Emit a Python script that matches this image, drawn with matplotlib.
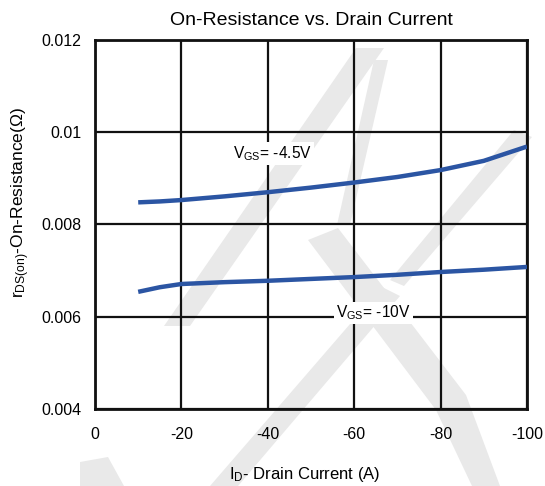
import matplotlib
matplotlib.use("Agg")
import matplotlib.pyplot as plt
from matplotlib.patches import Polygon

plt.rcParams['font.family'] = ['Liberation Sans', 'DejaVu Sans']
plt.rcParams['mathtext.fontset'] = 'custom'
plt.rcParams['mathtext.rm'] = 'Liberation Sans'

# drain current (A) and on-resistance (ohm)
drain_current = [-10, -15, -20, -30, -40, -50, -60, -70, -80, -90, -100]
rds_vgs_4v5 = [0.00848, 0.00850, 0.00853, 0.00861, 0.00870, 0.00880, 0.00891,
               0.00903, 0.00918, 0.00938, 0.00969]
rds_vgs_10v = [0.00654, 0.00664, 0.00671, 0.00675, 0.00678, 0.00682, 0.00686,
               0.00691, 0.00697, 0.00702, 0.00708]

x_ticks = [0, -20, -40, -60, -80, -100]
y_ticks = [0.004, 0.006, 0.008, 0.010, 0.012]
y_tick_labels = ["0.004", "0.006", "0.008", "0.01", "0.012"]

LINE_COLOR = '#2b55a3'
W, H = 545, 486

fig = plt.figure(figsize=(W / 100, H / 100), dpi=100, facecolor='white')
ax = fig.add_axes([95 / W, 1 - 409 / H, (527 - 95) / W, (409 - 40) / H])
ax.set_facecolor('none')
ax.set_zorder(2)

# faint watermark behind the plot (figure pixel coords, y down)
watermark = [
    [(356, 48), (384, 48), (190, 326), (164, 326)],
    [(374, 60), (388, 60), (350, 225), (337, 225)],
    [(308, 240), (338, 228), (466, 395), (500, 486), (472, 486), (436, 410)],
    [(514, 130), (532, 137), (404, 286), (390, 280)],
    [(382, 287), (400, 296), (238, 486), (210, 486)],
    [(80, 462), (108, 457), (124, 486), (80, 486)],
]
for poly in watermark:
    pts = [(px / W, 1 - py / H) for px, py in poly]
    fig.patches.append(Polygon(pts, closed=True, transform=fig.transFigure,
                               facecolor='#e9e9e9', edgecolor='none', zorder=-1))

ax.plot(drain_current, rds_vgs_4v5, color=LINE_COLOR, lw=3.2, zorder=3,
        solid_capstyle='butt')
ax.plot(drain_current, rds_vgs_10v, color=LINE_COLOR, lw=3.2, zorder=3,
        solid_capstyle='butt')

ax.set_xlim(0, -100)
ax.set_ylim(0.004, 0.012)
ax.set_xticks(x_ticks)
ax.set_xticklabels([str(t) for t in x_ticks], fontsize=11.5)
ax.set_yticks(y_ticks)
ax.set_yticklabels(y_tick_labels, fontsize=11.5)
ax.tick_params(length=0, pad=10)
ax.tick_params(axis='x', pad=13)
ax.grid(True, color='#111111', lw=1.6, zorder=1)
ax.set_axisbelow(True)
for s in ax.spines.values():
    s.set_linewidth(2)
    s.set_color('#111111')

box = dict(facecolor='white', edgecolor='none', pad=1.5)
ax.text(-41, 0.00954, r'$\mathregular{V_{GS}}$= -4.5V', fontsize=11.2,
        ha='center', va='center', bbox=box, zorder=4)
ax.text(-64.5, 0.00608, r'$\mathregular{V_{GS}}$= -10V', fontsize=11.2,
        ha='center', va='center', bbox=box, zorder=4)

ax.set_title('On-Resistance vs. Drain Current', fontsize=14, pad=11)
ax.set_xlabel(r'$\mathregular{I_D}$- Drain Current (A)', fontsize=12)
ax.xaxis.set_label_coords(0.485, -0.152)
ax.set_ylabel(r'$\mathregular{r_{DS(on)}}$-On-Resistance($\Omega$)', fontsize=12.5)
ax.yaxis.set_label_coords(-0.145, 0.56)

fig.savefig('out.png', dpi=100)
